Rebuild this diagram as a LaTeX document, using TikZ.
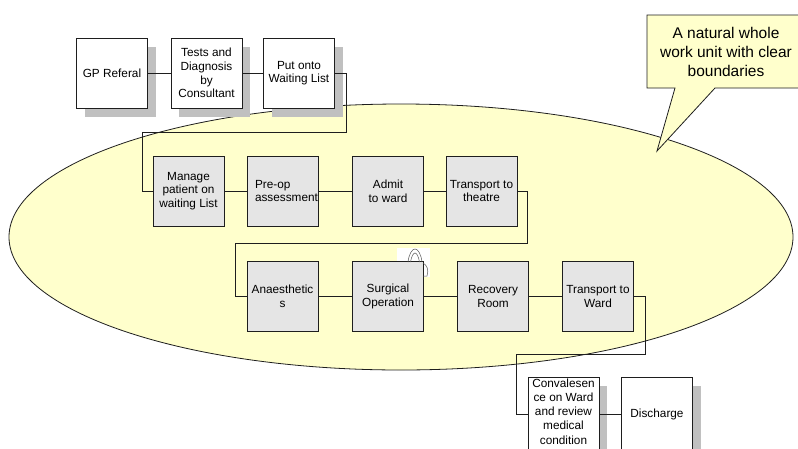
\documentclass[tikz,border=0pt]{standalone}
\usepackage{fontspec}
\setmainfont{Liberation Sans}
\usetikzlibrary{shadows}
\definecolor{ellfill}{RGB}{255,255,204}
\definecolor{boxgray}{RGB}{229,229,229}
\definecolor{shadowgray}{RGB}{192,192,192}
\definecolor{linecol}{RGB}{30,30,30}
\tikzset{
  procbox/.style={draw=linecol, line width=0.8pt, rectangle, minimum width=71pt, minimum height=70pt, inner sep=0pt, align=center, font=\fontsize{11.8}{13.6}\selectfont},
  whitebox/.style={procbox, fill=white, general shadow={fill=shadowgray, shadow xshift=8pt, shadow yshift=-9pt}},
  graybox/.style={procbox, fill=boxgray},
  conn/.style={draw=linecol, line width=0.8pt},
  calloutshape/.style={draw=linecol, line width=0.8pt, fill=ellfill}
}
\begin{document}
\begin{tikzpicture}[x=1pt,y=-1pt]
\useasboundingbox (0,0) rectangle (798,448);
% the unit ellipse
\draw[line width=0.8pt, draw=linecol, fill=ellfill] (401,237) ellipse [x radius=392pt, y radius=133pt];
% callout
\draw[calloutshape] (647,15) -- (806,15) -- (806,88) -- (715,88) -- (657,151) -- (675,88) -- (647,88) -- cycle;
\node[font=\fontsize{15.5}{19}\selectfont, align=center] (callout) at (726,52) {A natural whole\\work unit with clear\\boundaries};
% small icon behind surgical box
\fill[white] (397,248) rectangle (430,277);
% row 1
\node[whitebox] (gp) at (112,73) {GP Referal};
\node[whitebox] (tests) at (206.5,73) {Tests and\\Diagnosis\\by\\Consultant};
\node[whitebox] (put) at (299,73) {Put onto\\Waiting List};
% row 2
\node[graybox] (manage) at (188.5,191) {Manage\\patient on\\waiting List};
\node[graybox, align=left] (preop) at (282.5,191) {\hspace*{8pt}Pre-op\\\hspace*{8pt}assessment};
\node[graybox] (admit) at (388,191) {Admit\\to ward};
\node[graybox] (ttheatre) at (481.5,191) {Transport to\\theatre};
% row 3
\node[graybox] (anaes) at (282.5,296.5) {Anaesthetic\\s};
\node[graybox] (surg) at (388,296.5) {Surgical\\Operation};
\node[graybox] (recov) at (493,296.5) {Recovery\\Room};
\node[graybox] (tward) at (598,296.5) {Transport to\\Ward};
% row 4
\node[whitebox, minimum height=74pt, text depth=5pt, font=\fontsize{11.8}{14.2}\selectfont] (conv) at (563.5,414) {Convalesen\\ce on Ward\\and review\\medical\\condition};
\node[whitebox, minimum height=74pt] (disch) at (657,414) {Discharge};
% icon outlines
\draw[gray!70!black, line width=0.5pt] (408,262) .. controls (409,254) and (412,249) .. (415,249) .. controls (418,249) and (421,254) .. (422,262);
\draw[gray!70!black, line width=0.5pt] (410.5,262) .. controls (411.5,256) and (413.5,253) .. (415,253) .. controls (416.5,253) and (418.5,256) .. (419.5,262);
\draw[gray!70!black, line width=0.5pt] (423,263) .. controls (427,265) and (429,270) .. (427,276) -- (423,276);
% coordinates for connectors
\coordinate (a1) at (346,132);
\coordinate (a2) at (142,132);
\coordinate (b1) at (527,243);
\coordinate (b2) at (235,243);
\coordinate (c1) at (645,354);
\coordinate (c2) at (516,354);
% connectors
\draw[conn] (gp.east) -- (tests.west);
\draw[conn] (tests.east) -- (put.west);
\draw[conn] (put.east) -| (a1) -- (a2) |- (manage.west);
\draw[conn] (manage.east) -- (preop.west);
\draw[conn] (preop.east) -- (admit.west);
\draw[conn] (admit.east) -- (ttheatre.west);
\draw[conn] (ttheatre.east) -| (b1) -- (b2) |- (anaes.west);
\draw[conn] (anaes.east) -- (surg.west);
\draw[conn] (surg.east) -- (recov.west);
\draw[conn] (recov.east) -- (tward.west);
\draw[conn] (tward.east) -| (c1) -- (c2) |- (conv.west);
\draw[conn] (conv.east) -- (disch.west);
\end{tikzpicture}
\end{document}
